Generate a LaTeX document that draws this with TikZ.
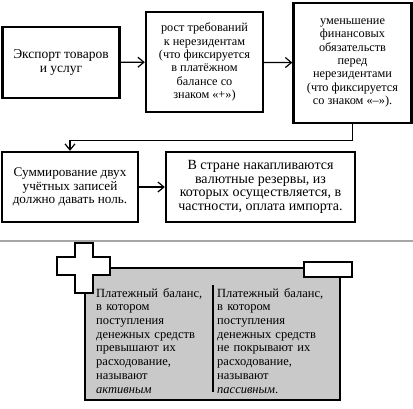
\documentclass[tikz,border=0pt]{standalone}
\usepackage{fontspec}
\setmainfont{Liberation Serif}
\usetikzlibrary{arrows.meta}
\begin{document}
\begin{tikzpicture}[x=1pt,y=-1pt,
  box/.style={draw=black,line width=2.4pt,fill=white,align=center,inner sep=1pt},
  arr/.style={line width=1.2pt,-{Straight Barb[length=6pt,width=10pt,line width=1.2pt]}},
  graytext/.style={anchor=north west,inner sep=0pt,align=left,text width=112pt,
    font=\fontsize{12.5}{13.7}\selectfont}]
\useasboundingbox (0,0) rectangle (413,408);
\node[box,minimum width=117pt,minimum height=71pt,font=\fontsize{13.5}{13.5}\selectfont] (b1) at (61,62.5) {Экспорт товаров\\и услуг};
\node[box,minimum width=117pt,minimum height=100pt,font=\fontsize{12.3}{13.3}\selectfont] (b2) at (204.5,62) {рост требований\\к нерезидентам\\(что фиксируется\\в платёжном\\балансе со\\знаком «+»)};
\node[box,minimum width=118pt,minimum height=120pt,font=\fontsize{12.3}{13.4}\selectfont] (b3) at (352.5,63) {уменьшение\\финансовых\\обязательств\\перед\\нерезидентами\\(что фиксируется\\со знаком «–»).};
\node[box,minimum width=136pt,minimum height=70pt,font=\fontsize{13.2}{13.6}\selectfont] (b4) at (70,187) {Суммирование двух\\учётных записей\\должно давать ноль.};
\node[box,minimum width=189pt,minimum height=70pt,font=\fontsize{14}{13.7}\selectfont] (b5) at (260.5,187) {В стране накапливаются\\валютные резервы, из\\которых осуществляется, в\\частности, оплата импорта.};
\draw[arr] (b1) -- (b2);
\draw[arr] (b2) -- (b3);
\draw[arr] (b3.south) -- ++(0,16) -| (b4.north);
\draw[arr] (b4) -- (b5);
% separator
\draw[gray!70,line width=1.3pt] (0,241) coordinate (s1) -- (413,241) coordinate (s2);
% gray panel
\draw[line width=2.2pt,fill=black!21] (85,268) rectangle (340,400);
\node[graytext] (lt) at (96,288) {\hbox to 106pt{Платежный\hfill баланс,}\\в котором\\поступления\\денежных средств\\превышают их\\расходование,\\называют\\\textit{активным}};
\node[graytext] (rt) at (217,288) {\hbox to 106pt{Платежный\hfill баланс,}\\в котором\\поступления\\денежных средств\\не покрывают их\\расходование,\\называют\\\textit{пассивным}.};
\draw[line width=2.2pt] (213,285) -- (213,392);
% plus sign
\draw[line width=2.2pt,fill=white] (75,243) -- (93,243) -- (93,257) -- (110,257) -- (110,275) -- (93,275) -- (93,293) -- (75,293) -- (75,275) -- (57,275) -- (57,257) -- (75,257) -- cycle;
% minus sign
\draw[line width=2.2pt,fill=white] (304,262) rectangle (352,277);
\end{tikzpicture}
\end{document}
